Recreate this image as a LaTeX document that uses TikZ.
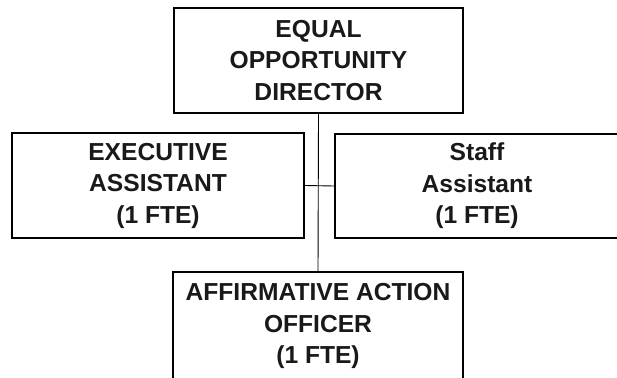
\documentclass[tikz,border=0pt]{standalone}
\usepackage{fontspec}
\setmainfont{Liberation Sans}
\usetikzlibrary{positioning}

\tikzset{
    post/.style={draw, line width=2.2pt, align=center, inner sep=0pt,
        font=\fontsize{24.6}{31.5}\selectfont\bfseries, text=black!90},
    link/.style={line width=0.9pt}
}

\begin{document}
\begin{tikzpicture}[x=1pt,y=-1pt]
    \useasboundingbox (0,0) rectangle (617,377);
    \node[post, minimum width=289pt, minimum height=105pt] (dir) at (318.5,60.5)
        {EQUAL\\OPPORTUNITY\\DIRECTOR};
    \node[post, minimum width=292pt, minimum height=105pt] (exec) at (158,185.5)
        {EXECUTIVE\\ASSISTANT\\(1 FTE)};
    \node[post, minimum width=284pt, minimum height=104pt] (staff) at (477,186)
        {Staff\\Assistant\\(1 FTE)};
    \node[post, minimum width=290pt, minimum height=108pt] (aao) at (318,326)
        {AFFIRMATIVE ACTION\\OFFICER\\(1 FTE)};
    % reporting lines
    \draw[link] (dir.south) -- (aao.north);
    \draw[link] (exec.east) -- (staff.west);
\end{tikzpicture}
\end{document}
